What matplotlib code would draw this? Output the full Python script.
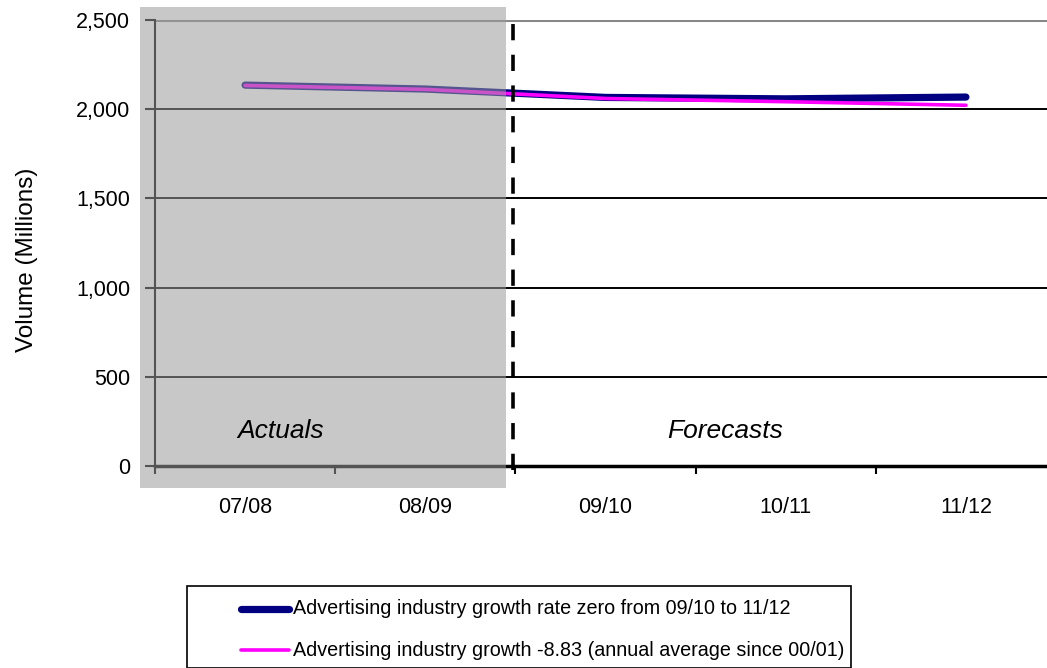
import matplotlib
matplotlib.use("Agg")
import matplotlib.pyplot as plt
from matplotlib.patches import Rectangle
from matplotlib.lines import Line2D
from matplotlib.ticker import FuncFormatter

plt.rcParams['font.family'] = ['Liberation Sans', 'DejaVu Sans']

years = ["07/08", "08/09", "09/10", "10/11", "11/12"]
zero_growth = [2135, 2113, 2066, 2058, 2068]
avg_growth = [2133, 2111, 2060, 2042, 2022]
labels = ["Advertising industry growth rate zero from 09/10 to 11/12",
          "Advertising industry growth -8.83 (annual average since 00/01)"]
y_ticks = [0, 500, 1000, 1500, 2000, 2500]

W, H = 1047, 668
fig = plt.figure(figsize=(W / 100, H / 100), dpi=100)

def fx(px):
    return px / W

def fy(py):
    return 1 - py / H

# plot area; the last category runs slightly past the right edge
ax = fig.add_axes([fx(155), fy(466), fx(1056) - fx(155), fy(20) - fy(466)])
x = list(range(len(years)))

ax.plot(x, zero_growth, color="#000080", lw=5.2, solid_capstyle="round",
        solid_joinstyle="round", zorder=3)
ax.plot(x, avg_growth, color="#FF00FF", lw=2.6, solid_capstyle="round",
        solid_joinstyle="round", zorder=4)

ax.set_xlim(-0.5, len(years) - 0.5)
ax.set_ylim(0, 2500)
ax.set_yticks(y_ticks)
ax.yaxis.set_major_formatter(FuncFormatter(lambda v, p: f"{int(v):,}"))
for v in y_ticks[1:-1]:
    ax.axhline(v, color="black", lw=1.4, zorder=1)
ax.axhline(2500, color="#888888", lw=2.2, zorder=1)

# category boundaries carry the tick marks, labels sit between them
ax.set_xticks([i - 0.5 for i in range(len(years) + 1)])
ax.set_xticklabels([])
ax.set_xticks(x, minor=True)
ax.set_xticklabels(years, minor=True, fontsize=15.5)
ax.tick_params(axis="x", which="major", direction="out", length=6, width=1.5)
ax.tick_params(axis="x", which="minor", length=0, pad=22)
ax.tick_params(axis="y", direction="out", length=7, width=1.5, labelsize=15.5, pad=11)

for side in ["top", "right"]:
    ax.spines[side].set_visible(False)
ax.spines["left"].set_linewidth(1.5)
ax.spines["bottom"].set_linewidth(2.5)

ax.axvline(1.485, ymin=-0.01, ymax=1, color="black", lw=2.6,
           dashes=(4.5, 4), clip_on=False, zorder=5)

fig.text(fx(27), fy(260), "Volume (Millions)", fontsize=17.5, rotation=90,
         ha="center", va="center")

# shaded overlay on the historical years
fig.add_artist(Rectangle((fx(140), fy(488)), fx(506) - fx(140), fy(7) - fy(488),
                         transform=fig.transFigure, facecolor="#9b9b9b",
                         alpha=0.55, edgecolor="none", zorder=6))

fig.text(fx(281), fy(431), "Actuals", fontsize=19, style="italic",
         ha="center", va="center", zorder=7)
fig.text(fx(725), fy(431), "Forecasts", fontsize=19, style="italic",
         ha="center", va="center", zorder=7)

# legend box
fig.add_artist(Rectangle((fx(187), fy(668)), fx(851) - fx(187), fy(586) - fy(668),
                         transform=fig.transFigure, facecolor="white",
                         edgecolor="black", lw=1.2, zorder=6))
for row, (lab, col, lw) in enumerate(zip(labels, ["#000080", "#FF00FF"], [5.2, 2.6])):
    yy = fy(609 + 41 * row)
    fig.add_artist(Line2D([fx(241), fx(289)], [yy, yy], color=col, lw=lw,
                          solid_capstyle="round", transform=fig.transFigure, zorder=7))
    fig.text(fx(293), yy, lab, fontsize=14.2, ha="left", va="center", zorder=7)

fig.savefig("out.png", dpi=100)
